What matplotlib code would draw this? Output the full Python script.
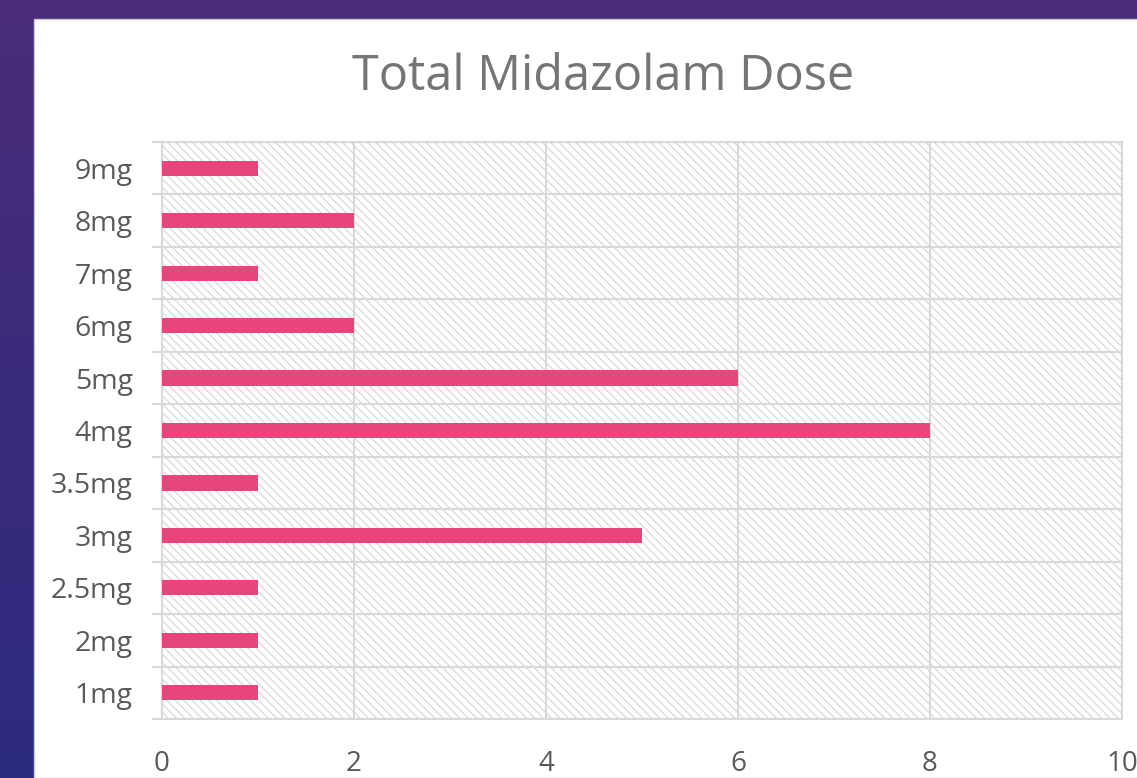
import matplotlib.pyplot as plt
import numpy as np
from matplotlib.patches import Rectangle
from matplotlib.colors import LinearSegmentedColormap

# Data
doses = ['1mg', '2mg', '2.5mg', '3mg', '3.5mg', '4mg', '5mg', '6mg', '7mg', '8mg', '9mg']
counts = [1, 1, 1, 5, 1, 8, 6, 2, 1, 2, 1]
x_ticks = [0, 2, 4, 6, 8, 10]

plt.rcParams['font.family'] = ['Open Sans', 'DejaVu Sans']
plt.rcParams['hatch.linewidth'] = 0.9
plt.rcParams['hatch.color'] = '#d9d9d9'

fig = plt.figure(figsize=(11.37, 7.78), dpi=100)

# purple slide background
bg = fig.add_axes([0, 0, 1, 1], zorder=-10)
grad = np.linspace(0, 1, 256).reshape(-1, 1)
cmap = LinearSegmentedColormap.from_list('bgc', ['#4a2e78', '#3a2a7c', '#2c2a7e'])
bg.imshow(grad, aspect='auto', cmap=cmap, extent=[0, 1, 0, 1], origin='upper')
bg.add_patch(Rectangle((34 / 1137, 0), 1, 1 - 19 / 778, facecolor='white',
                       edgecolor='#c8c8d0', linewidth=1))
bg.set_xlim(0, 1)
bg.set_ylim(0, 1)
bg.axis('off')

ax = fig.add_axes([162 / 1137, 1 - 719 / 778, 960 / 1137, 577 / 778])
ax.set_facecolor('white')
y = np.arange(len(doses))
ax.add_patch(Rectangle((0, -0.5), 10, len(doses), facecolor='white', edgecolor='#d9d9d9',
                       hatch='\\\\\\\\', linewidth=0, zorder=0))
ax.barh(y, counts, height=0.29, color='#e8457a', zorder=3)

ax.set_xlim(0, 10)
ax.set_ylim(-0.5, len(doses) - 0.5)
ax.set_xticks(x_ticks)
ax.set_yticks(y)
ax.set_yticklabels(doses)
ax.set_yticks(np.arange(-0.5, len(doses), 1), minor=True)
ax.tick_params(axis='y', which='major', length=0, pad=21, labelsize=20.5, labelcolor='#595959')
ax.tick_params(axis='y', which='minor', length=7, width=1.5, color='#d9d9d9')
ax.tick_params(axis='x', which='major', length=0, pad=22, labelsize=20, labelcolor='#595959')
ax.grid(axis='x', color='#d9d9d9', linewidth=1.5, zorder=1)
ax.grid(axis='y', which='minor', color='#d9d9d9', linewidth=1.5, zorder=1)
ax.set_axisbelow(True)
for s in ax.spines.values():
    s.set_color('#d9d9d9')
    s.set_linewidth(1.5)

fig.text(603 / 1137, 1 - 77 / 778, 'Total Midazolam Dose', ha='center', va='center',
         fontsize=35, color='#757575')

fig.savefig('out.png', dpi=100)
